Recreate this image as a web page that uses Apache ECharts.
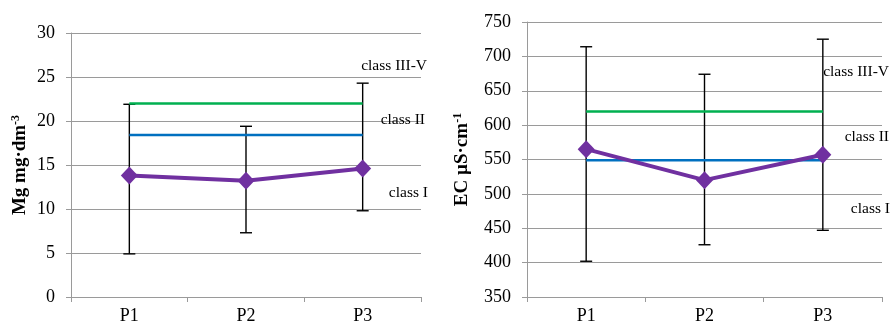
<!DOCTYPE html>
<html lang="en">
<head>
<meta charset="UTF-8">
<title>Mg and EC</title>
<style>
  html, body { margin: 0; padding: 0; background: #fff; }
  #chart { width: 890px; height: 326px; }
</style>
</head>
<body>
<div id="chart"></div>
<script src="https://cdn.jsdelivr.net/npm/echarts@6/dist/echarts.min.js"></script>
<script>
var sites = ['P1', 'P2', 'P3'];

// Mg panel
var mgMean = [13.8, 13.2, 14.6];
var mgLow = [4.9, 7.3, 9.8];
var mgHigh = [21.9, 19.4, 24.3];
var mgClassII = 18.4;
var mgClassIII = 22.0;
var mgLabelNames = ['class III-V', 'class II', 'class I'];
var mgLabelValues = [26.3, 20.1, 11.8];

// EC panel
var ecMean = [565, 520, 557];
var ecLow = [402, 426, 447];
var ecHigh = [714, 674, 725];
var ecClassII = 549;
var ecClassIII = 620;
var ecLabelNames = ['class III-V', 'class II', 'class I'];
var ecLabelValues = [677, 583, 478];

var serif = 'Liberation Serif';
var gridGray = '#9a9a9a';

function errorSeries(idx, low, high) {
  return {
    type: 'custom',
    xAxisIndex: idx, yAxisIndex: idx,
    z: 2,
    data: sites.map(function (s, i) { return [i, low[i], high[i]]; }),
    renderItem: function (params, api) {
      var lo = api.coord([api.value(0), api.value(1)]);
      var hi = api.coord([api.value(0), api.value(2)]);
      var w = 6;
      var st = { stroke: '#000', lineWidth: 1.4 };
      return {
        type: 'group',
        children: [
          { type: 'line', shape: { x1: lo[0], y1: lo[1], x2: hi[0], y2: hi[1] }, style: st },
          { type: 'line', shape: { x1: lo[0] - w, y1: lo[1], x2: lo[0] + w, y2: lo[1] }, style: st },
          { type: 'line', shape: { x1: hi[0] - w, y1: hi[1], x2: hi[0] + w, y2: hi[1] }, style: st }
        ]
      };
    }
  };
}

function classLine(idx, v, color) {
  return {
    type: 'line',
    xAxisIndex: idx, yAxisIndex: idx,
    z: 3,
    data: sites.map(function () { return v; }),
    showSymbol: false,
    symbol: 'none',
    lineStyle: { color: color, width: 2.5 },
    silent: true
  };
}

function meanSeries(idx, data) {
  return {
    type: 'line',
    xAxisIndex: idx, yAxisIndex: idx,
    z: 4,
    data: data,
    symbol: 'diamond',
    symbolSize: [17, 18],
    itemStyle: { color: '#7030a0' },
    lineStyle: { color: '#7030a0', width: 4 }
  };
}

function classLabels(idx, names, values, dx) {
  return {
    type: 'custom',
    xAxisIndex: idx, yAxisIndex: idx,
    z: 5,
    silent: true,
    clip: false,
    data: names.map(function (n, i) { return [2, values[i], i]; }),
    renderItem: function (params, api) {
      var p = api.coord([api.value(0), api.value(1)]);
      var cs = params.coordSys;
      return {
        type: 'text',
        style: {
          x: cs.x + cs.width + dx[api.value(2)],
          y: p[1],
          text: names[api.value(2)],
          fill: '#000',
          font: '15.5px "Liberation Serif"',
          align: 'right',
          verticalAlign: 'middle'
        }
      };
    }
  };
}

function xAxisCfg(idx) {
  return {
    type: 'category',
    gridIndex: idx,
    data: sites,
    boundaryGap: true,
    axisLine: { lineStyle: { color: gridGray, width: 1 } },
    axisTick: { show: true, length: 5, lineStyle: { color: gridGray } },
    axisLabel: { color: '#000', fontFamily: serif, fontSize: 18, margin: 10 },
    splitLine: { show: false }
  };
}

function yAxisCfg(idx, min, max, interval, nameRich, gap) {
  return {
    type: 'value',
    gridIndex: idx,
    min: min, max: max, interval: interval,
    name: nameRich,
    nameLocation: 'middle',
    nameGap: gap,
    nameRotate: 90,
    nameTextStyle: {
      color: '#000', fontFamily: serif, fontSize: 19, fontWeight: 'bold',
      rich: {
        b: { fontFamily: serif, fontSize: 19, fontWeight: 'bold', color: '#000' },
        s: { fontFamily: serif, fontSize: 12, fontWeight: 'bold', color: '#000', verticalAlign: 'top', padding: [0, 0, 9, 0] }
      }
    },
    axisLine: { show: true, lineStyle: { color: gridGray, width: 1 } },
    axisTick: { show: true, length: 5, lineStyle: { color: gridGray } },
    axisLabel: { color: '#000', fontFamily: serif, fontSize: 18, margin: 16 },
    splitLine: { show: true, lineStyle: { color: gridGray, width: 1 } }
  };
}

var chart = echarts.init(document.getElementById('chart'), null, { renderer: 'canvas' });
chart.setOption({
  animation: false,
  backgroundColor: '#fff',
  grid: [
    { left: 71, right: 469, top: 33, bottom: 29 },
    { left: 527, right: 8, top: 22, bottom: 29 }
  ],
  xAxis: [xAxisCfg(0), xAxisCfg(1)],
  yAxis: [
    yAxisCfg(0, 0, 30, 5, '{b|Mg mg·dm}{s|-3}', 40),
    yAxisCfg(1, 350, 750, 50, '{b|EC µS·cm}{s|-1}', 54)
  ],
  series: [
    errorSeries(0, mgLow, mgHigh),
    classLine(0, mgClassIII, '#00b050'),
    classLine(0, mgClassII, '#0070c0'),
    meanSeries(0, mgMean),
    classLabels(0, mgLabelNames, mgLabelValues, [6, 4, 7]),
    errorSeries(1, ecLow, ecHigh),
    classLine(1, ecClassIII, '#00b050'),
    classLine(1, ecClassII, '#0070c0'),
    meanSeries(1, ecMean),
    classLabels(1, ecLabelNames, ecLabelValues, [7, 7, 8])
  ]
});
</script>
</body>
</html>
